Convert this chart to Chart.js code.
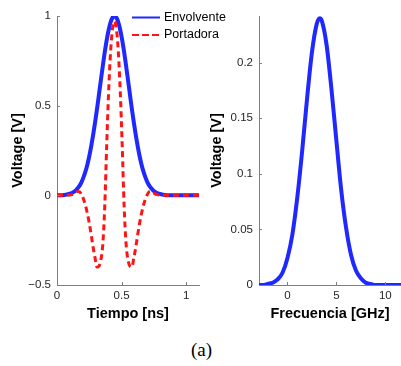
<!DOCTYPE html>
<html>
<head>
<meta charset="utf-8">
<script src="https://cdn.jsdelivr.net/npm/chart.js@4"></script>
<style>
  body { margin: 0; background: #fff; }
  #caja { position: relative; width: 401px; height: 366px; overflow: hidden; }
  #tiempoChart { position: absolute; left: 0; top: 0; }
  #frecChart { position: absolute; left: 200px; top: 0; }
  #pie { position: absolute; left: 0; width: 403px; top: 339px; height: 20px; line-height: 20px;
         text-align: center; font: 19px "Liberation Serif", "Times New Roman", serif; color: #000; }
</style>
</head>
<body>
<div id="caja">
  <canvas id="tiempoChart" width="240" height="330"></canvas>
  <canvas id="frecChart" width="201" height="330"></canvas>
  <div id="pie">(a)</div>
</div>
<script>
// pulso en el tiempo (ns)
const tiempo = [0,
  0.01, 0.025, 0.04, 0.055, 0.07, 0.085, 0.1, 0.115, 0.13, 0.145,
  0.16, 0.175, 0.19, 0.205, 0.22, 0.235, 0.25, 0.265, 0.28, 0.295,
  0.31, 0.325, 0.34, 0.355, 0.37, 0.385, 0.4, 0.415, 0.43, 0.445,
  0.46, 0.475, 0.49, 0.505, 0.52, 0.535, 0.55, 0.565, 0.58, 0.595,
  0.61, 0.625, 0.64, 0.655, 0.67, 0.685, 0.7, 0.715, 0.73, 0.745,
  0.76, 0.775, 0.79, 0.805, 0.82, 0.835, 0.85, 0.865, 0.88, 0.895,
  0.91, 0.925, 0.94, 0.955, 0.97, 0.985, 1.0, 1.015, 1.03, 1.045,
  1.06, 1.075, 1.09, 1.105]
const envolvente = [0,
  0, 0.001, 0.001, 0.002, 0.004, 0.006, 0.009, 0.013, 0.019, 0.027,
  0.039, 0.054, 0.074, 0.1, 0.132, 0.171, 0.218, 0.274, 0.337, 0.407,
  0.482, 0.562, 0.643, 0.723, 0.799, 0.866, 0.922, 0.965, 0.991, 1,
  0.991, 0.965, 0.922, 0.866, 0.799, 0.723, 0.643, 0.562, 0.482, 0.407,
  0.337, 0.274, 0.218, 0.171, 0.132, 0.1, 0.074, 0.054, 0.039, 0.027,
  0.019, 0.013, 0.009, 0.006, 0.004, 0.002, 0.001, 0.001, 0, 0,
  0, 0, 0, 0, 0, 0, 0, 0, 0, 0,
  0, 0, 0, 0]
const portadora = [0,
  0, 0, 0, 0, 0, 0.001, 0.002, 0.004, 0.008, 0.015,
  0.022, 0.02, 0.005, -0.02, -0.055, -0.1, -0.155, -0.22, -0.29, -0.35,
  -0.4, -0.395, -0.36, -0.27, -0.06, 0.28, 0.58, 0.8, 0.93, 0.97,
  0.93, 0.8, 0.58, 0.28, -0.06, -0.27, -0.36, -0.395, -0.4, -0.35,
  -0.29, -0.22, -0.155, -0.1, -0.055, -0.02, 0.005, 0.02, 0.022, 0.015,
  0.008, 0.004, 0.002, 0.001, 0, 0, 0, 0, 0, 0,
  0, 0, 0, 0, 0, 0, 0, 0, 0, 0,
  0, 0, 0, 0]

// espectro (GHz)
const frecuencia = [-3, -2.5, -2, -1.5, -1, -0.5, 0, 0.5, 1, 1.5, 2, 2.5, 3, 3.3, 3.5, 4,
  4.5, 5, 5.5, 6, 6.5, 7, 7.5, 8, 8.5, 9, 9.5, 10, 10.5, 11, 11.5, 12]
const espectro = [0, 0, 0.001, 0.002, 0.005, 0.011, 0.024, 0.045, 0.078, 0.12, 0.167, 0.209, 0.235, 0.24, 0.238, 0.216,
  0.176, 0.13, 0.085, 0.051, 0.027, 0.013, 0.006, 0.002, 0.001, 0, 0, 0, 0, 0, 0, 0]

const ticksTiempo = [0, 0.5, 1]
const ticksVoltaje = [-0.5, 0, 0.5, 1]
const ticksFrecuencia = [0, 5, 10]
const ticksEspectro = [0, 0.05, 0.1, 0.15, 0.2]

const azul = "rgb(30,40,255)"
const rojo = "rgb(255,20,20)"
const gris = "#7f7f7f"

Chart.defaults.font.family = '"Liberation Sans", Arial, sans-serif'
Chart.defaults.color = "#262626"

const formato = v => String(v).replace("-", "\u2212")

// ticks hacia adentro, estilo matlab
const ticksAdentro = {
  id: "ticksAdentro",
  afterDatasetsDraw(chart) {
    const ctx = chart.ctx
    const a = chart.chartArea
    const sx = chart.scales.x, sy = chart.scales.y
    ctx.save()
    ctx.strokeStyle = gris
    ctx.lineWidth = 1
    sx.ticks.forEach(t => {
      const px = Math.round(sx.getPixelForValue(t.value)) + 0.5
      ctx.beginPath(); ctx.moveTo(px, a.bottom); ctx.lineTo(px, a.bottom - 3); ctx.stroke()
    })
    sy.ticks.forEach(t => {
      const py = Math.round(sy.getPixelForValue(t.value)) + 0.5
      ctx.beginPath(); ctx.moveTo(a.left, py); ctx.lineTo(a.left + 3, py); ctx.stroke()
    })
    ctx.restore()
  }
}

const leyenda = {
  id: "leyenda",
  afterDraw(chart) {
    const ctx = chart.ctx
    ctx.save()
    ctx.lineWidth = 2
    ctx.strokeStyle = azul
    ctx.beginPath(); ctx.moveTo(132, 17.5); ctx.lineTo(160, 17.5); ctx.stroke()
    ctx.strokeStyle = rojo
    ctx.setLineDash([7, 3])
    ctx.beginPath(); ctx.moveTo(132, 35); ctx.lineTo(160, 35); ctx.stroke()
    ctx.setLineDash([])
    ctx.fillStyle = "#000"
    ctx.font = '12.5px "Liberation Sans", Arial, sans-serif'
    ctx.textBaseline = "middle"
    ctx.fillText("Envolvente", 164, 18)
    ctx.fillText("Portadora", 164, 35)
    ctx.restore()
  }
}

function ejes(xTicks, xMin, xMax, xTitulo, yTicks, yMin, yMax, yAncho, yPad) {
  return {
    x: {
      type: "linear", min: xMin, max: xMax,
      afterBuildTicks: s => { s.ticks = xTicks.map(v => ({ value: v })) },
      afterFit: s => { s.height = 45 },
      grid: { display: false, drawTicks: false },
      border: { display: true, color: gris, width: 1 },
      ticks: { padding: 4, font: { size: 11.5 }, callback: formato },
      title: { display: true, text: xTitulo, color: "#000", font: { size: 14.5, weight: "bold" }, padding: { top: 0, bottom: 7 } }
    },
    y: {
      type: "linear", min: yMin, max: yMax,
      afterBuildTicks: s => { s.ticks = yTicks.map(v => ({ value: v })) },
      afterFit: s => { s.width = yAncho },
      grid: { display: false, drawTicks: false },
      border: { display: true, color: gris, width: 1 },
      ticks: { padding: 6, font: { size: 11.5 }, callback: formato },
      title: { display: true, text: "Voltage [V]", color: "#000", font: { size: 14.5, weight: "bold" }, padding: { top: yPad, bottom: 0 } }
    }
  }
}

new Chart(document.getElementById("tiempoChart"), {
  type: "line",
  data: {
    datasets: [
      {
        label: "Portadora",
        data: tiempo.map((t, i) => ({ x: t, y: portadora[i] })),
        borderColor: rojo, borderWidth: 3, borderDash: [6, 4],
        pointRadius: 0, cubicInterpolationMode: "monotone", order: 0
      },
      {
        label: "Envolvente",
        data: tiempo.map((t, i) => ({ x: t, y: envolvente[i] })),
        borderColor: azul, borderWidth: 4,
        pointRadius: 0, cubicInterpolationMode: "monotone", order: 1
      }
    ]
  },
  options: {
    responsive: false, animation: false, devicePixelRatio: 1,
    layout: { padding: { top: 16, right: 41, left: 0, bottom: 0 } },
    plugins: { legend: { display: false }, tooltip: { enabled: false } },
    scales: ejes(ticksTiempo, 0, 1.1, "Tiempo [ns]", ticksVoltaje, -0.5, 1, 57, 9)
  },
  plugins: [ticksAdentro, leyenda]
})

new Chart(document.getElementById("frecChart"), {
  type: "line",
  data: {
    datasets: [
      {
        label: "Espectro",
        data: frecuencia.map((f, i) => ({ x: f, y: espectro[i] })),
        borderColor: azul, borderWidth: 4,
        pointRadius: 0, cubicInterpolationMode: "monotone"
      }
    ]
  },
  options: {
    responsive: false, animation: false, devicePixelRatio: 1,
    layout: { padding: { top: 16, right: 0, left: 0, bottom: 0 } },
    plugins: { legend: { display: false }, tooltip: { enabled: false } },
    scales: ejes(ticksFrecuencia, -2.9, 11.6, "Frecuencia [GHz]", ticksEspectro, 0, 0.242, 59, 8)
  },
  plugins: [ticksAdentro]
})
</script>
</body>
</html>
